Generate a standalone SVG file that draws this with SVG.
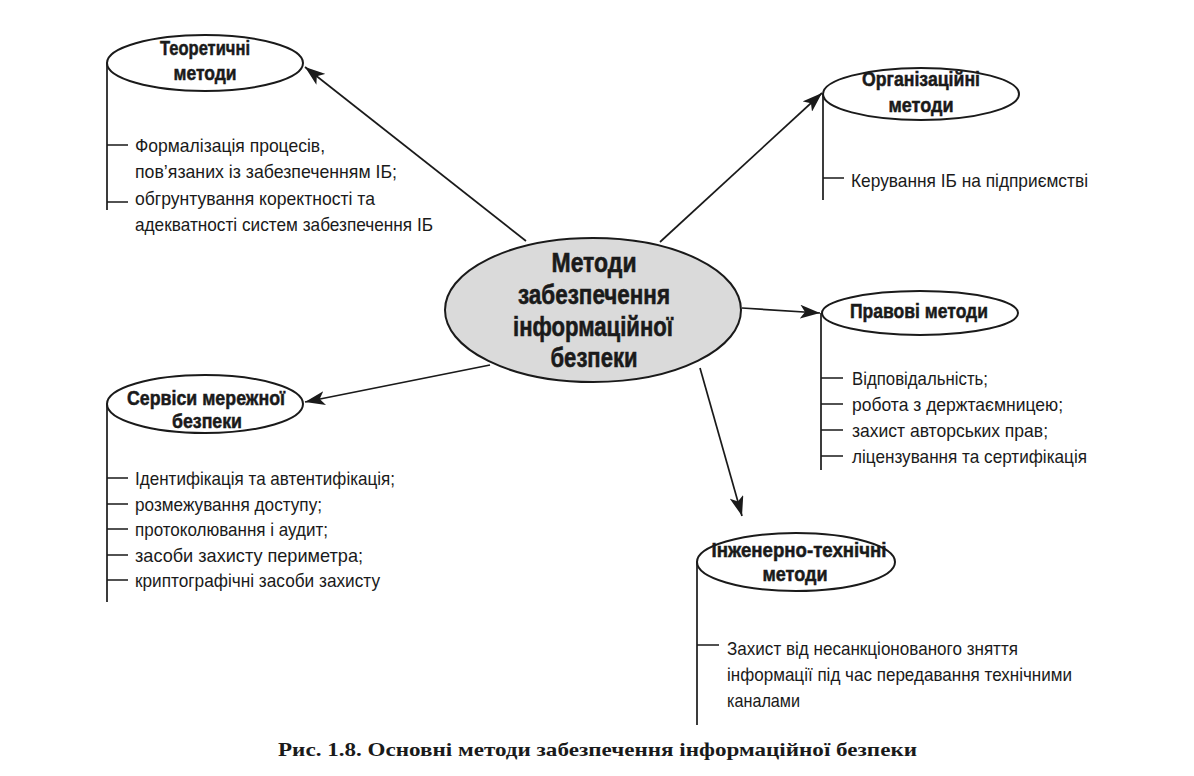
<svg xmlns="http://www.w3.org/2000/svg" width="1194" height="776" viewBox="0 0 1194 776">
<style>
.node{fill:#fff;stroke:#1a1a1a;stroke-width:2}
.center{fill:#dadada;stroke:#1a1a1a;stroke-width:2}
.h{font-family:"Liberation Sans Narrow","Liberation Sans",Arial,sans-serif;font-weight:bold;font-size:20px;fill:#1a1a1a;stroke:#1a1a1a;stroke-width:0.5}
.hc{font-family:"Liberation Sans Narrow","Liberation Sans",Arial,sans-serif;font-weight:bold;font-size:28px;fill:#1a1a1a;stroke:#1a1a1a;stroke-width:0.6}
.t{font-family:"Liberation Sans Narrow","Liberation Sans",Arial,sans-serif;font-size:18.5px;fill:#1a1a1a}
.cap{font-family:"Liberation Serif","Times New Roman",serif;font-weight:bold;font-size:19px;fill:#1a1a1a}
.ln{stroke:#1a1a1a;stroke-width:1.7;fill:none}
.ar{stroke:#1a1a1a;stroke-width:1.7;fill:none;marker-end:url(#ah)}
</style>
<defs>
<marker id="ah" markerUnits="userSpaceOnUse" markerWidth="22" markerHeight="14" refX="20" refY="7" orient="auto">
<path d="M0,0 L20,7 L0,14 L5,7 Z" fill="#1a1a1a"/>
</marker>
</defs>
<rect width="1194" height="776" fill="#fff"/>

<g id="connectors">
<line class="ar" x1="526" y1="241" x2="305" y2="67"/>
<line class="ar" x1="660" y1="242" x2="822" y2="93"/>
<line class="ar" x1="742" y1="308" x2="820" y2="313"/>
<line class="ar" x1="490" y1="365" x2="305" y2="402"/>
<line class="ar" x1="700" y1="368" x2="742" y2="516"/>
</g>

<g id="center">
<ellipse class="center" cx="593" cy="310" rx="148" ry="72"/>
<text class="hc" x="594" y="272" text-anchor="middle" textLength="85" lengthAdjust="spacingAndGlyphs">Методи</text>
<text class="hc" x="594" y="304" text-anchor="middle" textLength="152" lengthAdjust="spacingAndGlyphs">забезпечення</text>
<text class="hc" x="593" y="336" text-anchor="middle" textLength="160" lengthAdjust="spacingAndGlyphs">інформаційної</text>
<text class="hc" x="594" y="367" text-anchor="middle" textLength="87" lengthAdjust="spacingAndGlyphs">безпеки</text>
</g>

<g id="theoretical">
<path class="ln" d="M107,63 V210 M107,145 H128 M107,202 H128"/>
<ellipse class="node" cx="205" cy="63" rx="98" ry="28"/>
<text class="h" x="205" y="55" text-anchor="middle" textLength="90" lengthAdjust="spacingAndGlyphs">Теоретичні</text>
<text class="h" x="205" y="80" text-anchor="middle" textLength="63" lengthAdjust="spacingAndGlyphs">методи</text>
<text class="t" x="135" y="152" textLength="190" lengthAdjust="spacingAndGlyphs">Формалізація процесів,</text>
<text class="t" x="135" y="178" textLength="262" lengthAdjust="spacingAndGlyphs">пов’язаних із забезпеченням ІБ;</text>
<text class="t" x="135" y="205" textLength="240" lengthAdjust="spacingAndGlyphs">обгрунтування коректності та</text>
<text class="t" x="135" y="231" textLength="298" lengthAdjust="spacingAndGlyphs">адекватності систем забезпечення ІБ</text>
</g>

<g id="organizational">
<path class="ln" d="M823,94 V200 M823,178 H844"/>
<ellipse class="node" cx="921" cy="94" rx="98" ry="26"/>
<text class="h" x="921" y="86" text-anchor="middle" textLength="118" lengthAdjust="spacingAndGlyphs">Організаційні</text>
<text class="h" x="921" y="112" text-anchor="middle" textLength="65" lengthAdjust="spacingAndGlyphs">методи</text>
<text class="t" x="851" y="187" textLength="237" lengthAdjust="spacingAndGlyphs">Керування ІБ на підприємстві</text>
</g>

<g id="legal">
<path class="ln" d="M821,313 V470 M821,378 H843 M821,404 H843 M821,430 H843 M821,456 H843"/>
<ellipse class="node" cx="920" cy="313" rx="98" ry="22"/>
<text class="h" x="919" y="318" text-anchor="middle" textLength="138" lengthAdjust="spacingAndGlyphs">Правові методи</text>
<text class="t" x="852" y="385" textLength="136" lengthAdjust="spacingAndGlyphs">Відповідальність;</text>
<text class="t" x="852" y="411" textLength="211" lengthAdjust="spacingAndGlyphs">робота з держтаємницею;</text>
<text class="t" x="852" y="437" textLength="196" lengthAdjust="spacingAndGlyphs">захист авторських прав;</text>
<text class="t" x="852" y="463" textLength="235" lengthAdjust="spacingAndGlyphs">ліцензування та сертифікація</text>
</g>

<g id="network">
<path class="ln" d="M107,404 V602 M107,478 H128 M107,504 H128 M107,529 H128 M107,555 H128 M107,580 H128"/>
<ellipse class="node" cx="205" cy="404" rx="98" ry="29"/>
<text class="h" x="206" y="405" text-anchor="middle" textLength="158" lengthAdjust="spacingAndGlyphs">Сервіси мережної</text>
<text class="h" x="207" y="428" text-anchor="middle" textLength="70" lengthAdjust="spacingAndGlyphs">безпеки</text>
<text class="t" x="135" y="485" textLength="260" lengthAdjust="spacingAndGlyphs">Ідентифікація та автентифікація;</text>
<text class="t" x="135" y="511" textLength="187" lengthAdjust="spacingAndGlyphs">розмежування доступу;</text>
<text class="t" x="135" y="536" textLength="193" lengthAdjust="spacingAndGlyphs">протоколювання і аудит;</text>
<text class="t" x="135" y="562" textLength="228" lengthAdjust="spacingAndGlyphs">засоби захисту периметра;</text>
<text class="t" x="135" y="587" textLength="245" lengthAdjust="spacingAndGlyphs">криптографічні засоби захисту</text>
</g>

<g id="engineering">
<path class="ln" d="M697,562 V725 M697,645 H719"/>
<ellipse class="node" cx="796" cy="562" rx="99" ry="29"/>
<text class="h" x="799" y="557" text-anchor="middle" textLength="175" lengthAdjust="spacingAndGlyphs">Інженерно-технічні</text>
<text class="h" x="795" y="581" text-anchor="middle" textLength="65" lengthAdjust="spacingAndGlyphs">методи</text>
<text class="t" x="727" y="655" textLength="291" lengthAdjust="spacingAndGlyphs">Захист від несанкціонованого зняття</text>
<text class="t" x="727" y="681" textLength="345" lengthAdjust="spacingAndGlyphs">інформації під час передавання технічними</text>
<text class="t" x="727" y="707" textLength="73" lengthAdjust="spacingAndGlyphs">каналами</text>
</g>

<text class="cap" x="278" y="756" textLength="639" lengthAdjust="spacingAndGlyphs">Рис. 1.8. Основні методи забезпечення інформаційної безпеки</text>
</svg>
